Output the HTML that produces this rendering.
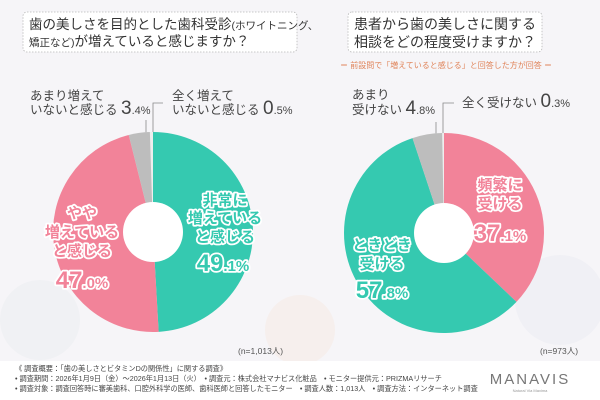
<!DOCTYPE html>
<html><head><meta charset="utf-8"><style>
html,body{margin:0;padding:0;width:600px;height:400px;overflow:hidden;background:#f6f5f8}
svg{display:block;font-family:"Liberation Sans","Noto Sans CJK JP",sans-serif}
.lb{font-weight:bold;stroke:#fff;stroke-width:3.5px;paint-order:stroke;stroke-linejoin:round}
.t{fill:#333}
</style></head><body>
<svg width="600" height="400" viewBox="0 0 600 400" xmlns="http://www.w3.org/2000/svg">
<rect width="600" height="400" fill="#f6f5f8"/>
<circle cx="40" cy="320" r="40" fill="#eef0f2" opacity="0.7"/>
<circle cx="560" cy="300" r="45" fill="#eeeef3" opacity="0.7"/>
<circle cx="300" cy="330" r="35" fill="#f6eeea" opacity="0.8"/>
<!-- title boxes -->
<rect x="23" y="12" width="274" height="40" rx="4" fill="#fff" stroke="#b8b8b8" stroke-width="0.8" stroke-dasharray="1.5,1.5"/>
<text x="29" y="29" font-size="13.5" class="t">歯の美しさを目的とした歯科受診<tspan font-size="10.5">(ホワイトニング、</tspan></text>
<text x="29" y="46" font-size="13.5" class="t"><tspan font-size="10.5">矯正など)</tspan>が増えていると感じますか？</text>
<rect x="348" y="12" width="194" height="40" rx="4" fill="#fff" stroke="#b8b8b8" stroke-width="0.8" stroke-dasharray="1.5,1.5"/>
<text x="445" y="29" font-size="14" class="t" text-anchor="middle">患者から歯の美しさに関する</text>
<text x="445" y="47" font-size="14" class="t" text-anchor="middle">相談をどの程度受けますか？</text>
<text x="446" y="68" font-size="8" fill="#e0845a" text-anchor="middle">＝ 前設問で「増えていると感じる」と回答した方が回答 ＝</text>

<!-- left top labels -->
<text x="30" y="100" font-size="12.5" fill="#444">あまり増えて</text>
<text x="30" y="114" font-size="12.5" fill="#444">いないと感じる <tspan font-size="19">3</tspan><tspan font-size="11">.4%</tspan></text>
<path d="M146,120 L146,134" stroke="#888" stroke-width="0.8" fill="none"/>
<path d="M163,103 L153,103 L153,133" stroke="#888" stroke-width="0.8" fill="none"/>
<text x="172" y="100" font-size="12.5" fill="#444">全く増えて</text>
<text x="172" y="114" font-size="12.5" fill="#444">いないと感じる <tspan font-size="19">0</tspan><tspan font-size="11">.5%</tspan></text>

<!-- right top labels -->
<text x="352" y="99" font-size="12.5" fill="#444">あまり</text>
<text x="352" y="114" font-size="12.5" fill="#444">受けない <tspan font-size="19">4</tspan><tspan font-size="11">.8%</tspan></text>
<path d="M436,122 L436,135" stroke="#888" stroke-width="0.8" fill="none"/>
<path d="M454,103 L443,103 L443,134" stroke="#888" stroke-width="0.8" fill="none"/>
<text x="462" y="107" font-size="12.5" fill="#444">全く受けない <tspan font-size="19">0</tspan><tspan font-size="11">.3%</tspan></text>

<!-- left pie -->
<circle cx="153" cy="232" r="100" fill="#eeeeee"/>
<path d="M153,232 L153,132 A100,100 0 0 1 158.65,331.84 Z" fill="#35c9b0"/>
<path d="M153,232 L158.65,331.84 A100,100 0 0 1 128.74,134.99 Z" fill="#f28399"/>
<path d="M153,232 L128.74,134.99 A100,100 0 0 1 149.86,132.05 Z" fill="#bdbdbd"/>
<circle cx="153" cy="232" r="30" fill="#fff"/>
<g class="lb" font-size="15" fill="#35c9b0" text-anchor="middle">
<text x="225" y="205">非常に</text>
<text x="225" y="223">増えている</text>
<text x="225" y="242">と感じる</text>
<text x="223" y="271" font-size="24">49<tspan font-size="15">.1%</tspan></text>
</g>
<g class="lb" font-size="15" fill="#f28399" text-anchor="middle">
<text x="82" y="218">やや</text>
<text x="82" y="237">増えている</text>
<text x="82" y="256">と感じる</text>
<text x="82" y="288" font-size="24">47<tspan font-size="15">.0%</tspan></text>
</g>

<!-- right pie -->
<circle cx="444" cy="233" r="100" fill="#eeeeee"/>
<path d="M444,233 L444,133 A100,100 0 0 1 516.48,301.90 Z" fill="#f28399"/>
<path d="M444,233 L516.48,301.90 A100,100 0 1 1 412.50,138.09 Z" fill="#35c9b0"/>
<path d="M444,233 L412.50,138.09 A100,100 0 0 1 442.12,133.02 Z" fill="#bdbdbd"/>
<circle cx="444" cy="233" r="30" fill="#fff"/>
<g class="lb" font-size="15" fill="#f28399" text-anchor="middle">
<text x="500" y="190">頻繁に</text>
<text x="500" y="209">受ける</text>
<text x="500" y="241" font-size="24">37<tspan font-size="15">.1%</tspan></text>
</g>
<g class="lb" font-size="15" fill="#35c9b0" text-anchor="middle">
<text x="382" y="250">ときどき</text>
<text x="382" y="269">受ける</text>
<text x="382" y="298" font-size="24">57<tspan font-size="15">.8%</tspan></text>
</g>

<text x="238" y="354" font-size="8.5" fill="#555">(n=1,013人)</text>
<text x="540" y="354" font-size="8.5" fill="#555">(n=973人)</text>

<!-- footer -->
<rect x="0" y="361" width="600" height="39" fill="#fff"/>
<g font-size="7.2" fill="#444">
<text x="15" y="371">《 調査概要：「歯の美しさとビタミンDの関係性」に関する調査》</text>
<text x="15" y="381">• 調査期間：2026年1月9日（金）～2026年1月13日（火）　• 調査元：株式会社マナビス化粧品　• モニター提供元：PRIZMAリサーチ</text>
<text x="15" y="391">• 調査対象：調査回答時に審美歯科、口腔外科学の医師、歯科医師と回答したモニター　• 調査人数：1,013人　• 調査方法：インターネット調査</text>
</g>
<text x="530" y="384" font-size="15" fill="#777" text-anchor="middle" letter-spacing="2">MANAVIS</text>
<text x="530" y="392" font-size="4" fill="#999" text-anchor="middle">Natural Via Maxima</text>
</svg>
</body></html>
